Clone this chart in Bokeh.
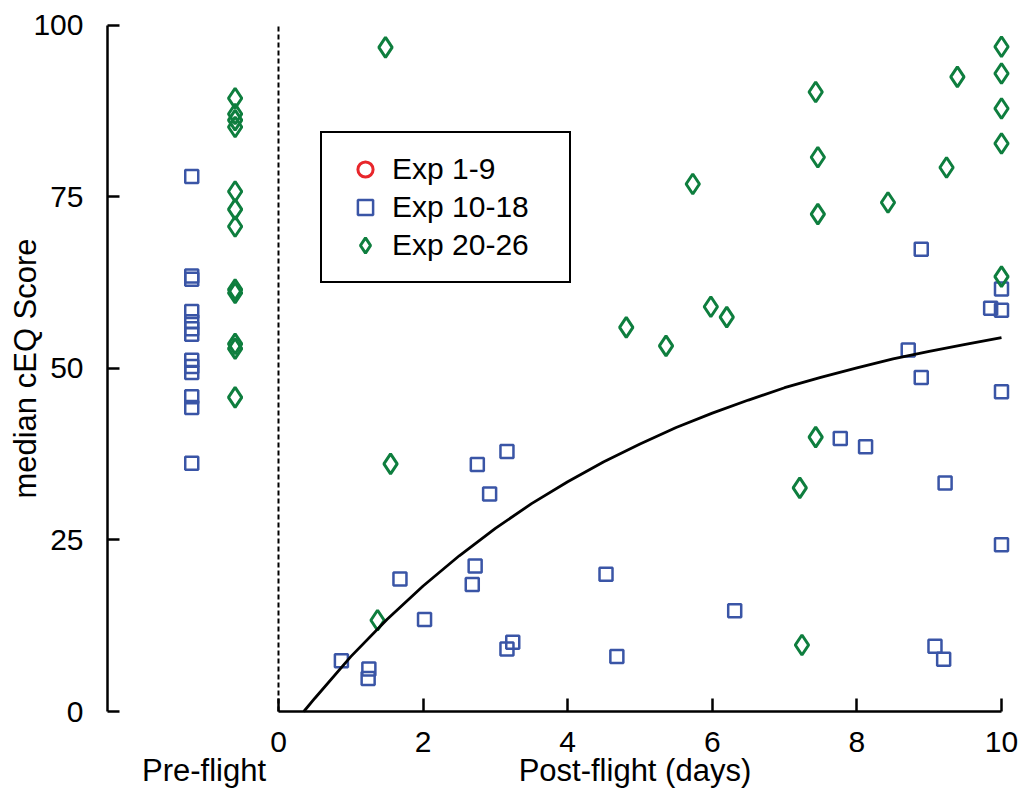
import math
from bokeh.plotting import figure
from bokeh.models import Range1d, FixedTicker, Label, Legend, LegendItem, ColumnDataSource
from bokeh.embed import file_html
from bokeh.resources import INLINE

# ---------------- data ----------------
series_labels = ["Exp 1-9", "Exp 10-18", "Exp 20-26"]

# pre-flight group positions (left of the day-0 line)
pre_x_blue = -1.2
pre_x_green = -0.6

blue_pre = [78.0, 63.5, 63.0, 58.3, 56.8, 55.8, 55.0, 51.2, 50.3, 49.4, 45.9, 44.3, 36.2]
green_pre = [89.4, 87.1, 86.2, 85.2, 75.8, 73.2, 70.7, 61.5, 61.0, 53.6, 52.9, 45.8]

blue_days = [3.16, 2.75, 2.92, 2.72, 2.68, 1.68, 4.53, 2.02, 3.24, 3.16, 4.68, 0.87, 1.25, 1.24,
             8.89, 10.0, 9.85, 10.0, 8.71, 8.89, 10.0, 7.77, 8.12, 9.22, 10.0, 6.31, 9.08, 9.20]
blue_post = [37.9, 36.0, 31.7, 21.2, 18.5, 19.3, 20.0, 13.4, 10.1, 9.1, 8.0, 7.4, 6.2, 4.8,
             67.4, 61.6, 58.8, 58.5, 52.7, 48.7, 46.6, 39.8, 38.6, 33.3, 24.3, 14.7, 9.5, 7.6]

green_days = [1.48, 4.81, 1.55, 1.37, 10.0, 10.0, 9.39, 10.0, 10.0, 7.43, 7.46, 7.46, 9.24,
              8.43, 5.73, 5.98, 6.20, 5.36, 10.0, 7.43, 7.21, 7.24]
green_post = [96.8, 56.0, 36.1, 13.3, 96.9, 93.0, 92.5, 87.9, 82.8, 90.3, 80.8, 72.5, 79.3,
              74.2, 76.9, 59.0, 57.5, 53.3, 63.4, 40.0, 32.6, 9.7]

# Exp 1-9 has no visible points in the chart (legend entry only)
red_days = [float("nan")]
red_post = [float("nan")]

curve_days = [0.35, 0.5, 1.0, 1.5, 2.0, 2.5, 3.0, 3.5, 4.0, 4.5, 5.0, 5.5, 6.0, 6.5, 7.0,
              7.5, 8.0, 8.5, 9.0, 9.5, 10.0]
curve_vals = [0.0, 1.9, 8.0, 13.4, 18.3, 22.7, 26.7, 30.3, 33.5, 36.4, 39.0, 41.4, 43.5, 45.4,
              47.2, 48.7, 50.1, 51.4, 52.5, 53.5, 54.5]

x_ticks = [0, 2, 4, 6, 8, 10]
y_ticks = [0, 25, 50, 75, 100]

# ---------------- styles / layout ----------------
FONT = "Liberation Sans"
RED = "#E8262B"
BLUE = "#3A55A6"
GREEN = "#0E7E3E"

X_START, X_END = -3.845, 10.249
Y_START, Y_END = -11.516, 103.644
Y_AXIS_AT = -2.365

p = figure(width=1019, height=790,
           x_range=Range1d(X_START, X_END), y_range=Range1d(Y_START, Y_END),
           output_backend="svg", toolbar_location=None,
           min_border_left=0, min_border_right=0, min_border_top=0, min_border_bottom=0)
p.outline_line_color = None
p.grid.visible = False
p.background_fill_color = "white"
p.border_fill_color = "white"

# axes (drawn at fixed data locations inside the frame)
xa = p.xaxis[0]
xa.fixed_location = 0
xa.bounds = (0, 10)
xa.ticker = FixedTicker(ticks=x_ticks, minor_ticks=[])
xa.major_tick_in = 13
xa.major_tick_out = 0
xa.minor_tick_line_color = None
xa.axis_line_width = 2.5
xa.major_tick_line_width = 2.5
xa.axis_line_color = "black"
xa.major_tick_line_color = "black"
xa.major_label_text_font = FONT
xa.major_label_text_font_size = "30px"
xa.major_label_text_color = "black"
xa.major_label_standoff = 20

ya = p.yaxis[0]
ya.fixed_location = Y_AXIS_AT
ya.bounds = (0, 100)
ya.ticker = FixedTicker(ticks=y_ticks, minor_ticks=[])
ya.major_tick_in = 12
ya.major_tick_out = 0
ya.minor_tick_line_color = None
ya.axis_line_width = 2.5
ya.major_tick_line_width = 2.5
ya.axis_line_color = "black"
ya.major_tick_line_color = "black"
ya.major_label_text_font = FONT
ya.major_label_text_font_size = "30px"
ya.major_label_text_color = "black"
ya.major_label_standoff = 24

# dashed divider at day 0
p.line([0, 0], [0, 100], line_color="black", line_width=2, line_dash="5 3")

# data sources
src_red = ColumnDataSource(dict(x=red_days, y=red_post))
src_blue = ColumnDataSource(dict(x=[pre_x_blue] * len(blue_pre) + blue_days,
                                 y=blue_pre + blue_post))
src_green = ColumnDataSource(dict(x=[pre_x_green] * len(green_pre) + green_days,
                                  y=green_pre + green_post))

r_red = p.scatter("x", "y", source=src_red, marker="circle", size=14,
                  fill_color=None, line_color=RED, line_width=3)
r_blue = p.scatter("x", "y", source=src_blue, marker="square", size=13,
                   fill_color=None, line_color=BLUE, line_width=2.5)
r_green = p.scatter("x", "y", source=src_green, marker="diamond", size=20,
                    fill_color=None, line_color=GREEN, line_width=3)

# fitted recovery curve
p.line(curve_days, curve_vals, line_color="black", line_width=2.8)

# legend
legend = Legend(items=[LegendItem(label=series_labels[0], renderers=[r_red]),
                       LegendItem(label=series_labels[1], renderers=[r_blue]),
                       LegendItem(label=series_labels[2], renderers=[r_green])],
                location=(320, 507))
legend.label_text_font = FONT
legend.label_text_font_size = "30px"
legend.label_text_color = "black"
legend.glyph_width = 52
legend.glyph_height = 38
legend.label_height = 38
legend.label_width = 160
legend.label_standoff = 1
legend.spacing = 0
legend.padding = 17
legend.border_line_color = "black"
legend.border_line_alpha = 1.0
legend.border_line_width = 2.5
legend.background_fill_color = "white"
legend.background_fill_alpha = 1.0
p.add_layout(legend)

# axis titles
p.add_layout(Label(x=-3.50, y=50, text="median cEQ Score",
                   angle=math.pi / 2, text_align="center", text_baseline="middle",
                   text_font=FONT, text_font_size="31px", text_color="black"))
p.add_layout(Label(x=-1.03, y=-8.6, text="Pre-flight",
                   text_align="center", text_baseline="middle",
                   text_font=FONT, text_font_size="31px", text_color="black"))
p.add_layout(Label(x=4.93, y=-8.6, text="Post-flight (days)",
                   text_align="center", text_baseline="middle",
                   text_font=FONT, text_font_size="31px", text_color="black"))

open("out.html", "w").write(file_html(p, INLINE))
